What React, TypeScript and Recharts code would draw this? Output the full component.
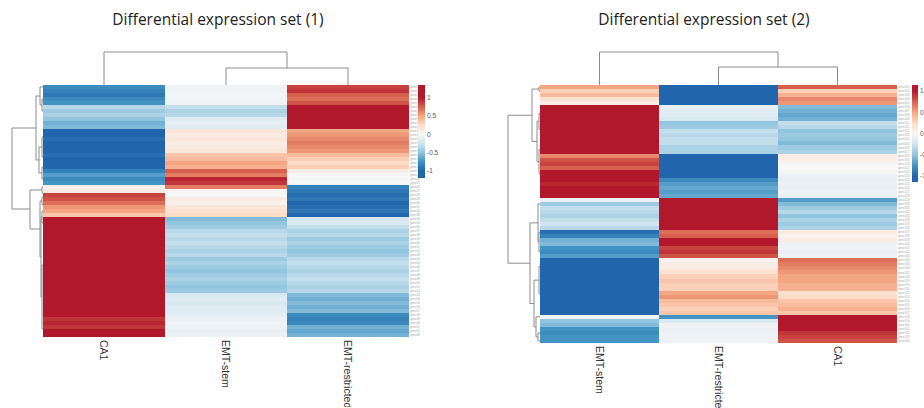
import {
  BarChart,
  Bar,
  Cell,
  XAxis,
  YAxis,
  ScatterChart,
  Scatter,
} from 'recharts'

// ---- set (1): row-scaled expression, rows top -> bottom ----
const set1Columns = ['CA1', 'EMT-stem', 'EMT-restricted']
const set1CA1 = [
  -0.8, -0.85, -0.9, -0.8, -0.75, -0.35, -0.45, -0.4, -0.5, -0.6,
  -0.55, -1, -1, -0.95, -1, -1, -1, -0.95, -1, -1,
  -1, -0.85, -0.7, -0.8, -0.75, 0.05, 0.1, 0.85, 0.8, 0.7,
  0.55, 0.5, 0.35, 1.2, 1.2, 1.2, 1.2, 1.2, 1.2, 1.2,
  1.2, 1.2, 1.2, 1.2, 1.2, 1.2, 1.2, 1.2, 1.2, 1.2,
  1.2, 1.2, 1.2, 1.2, 1.2, 1.2, 1.2, 1.2, 0.9, 0.95,
  0.9, 1.2, 1.2,
]
const set1Stem = [
  -0.05, -0.05, -0.03, -0.05, -0.05, -0.3, -0.4, -0.35, -0.15, -0.12,
  -0.15, 0.15, 0.12, 0.15, 0.1, 0.12, 0.15, 0.35, 0.4, 0.5,
  0.45, 0.75, 0.65, 0.95, 0.9, 0.65, 0.02, 0.0, 0.1, 0.05,
  0.15, 0.2, 0.25, -0.55, -0.5, -0.45, -0.35, -0.3, -0.35, -0.3,
  -0.35, -0.4, -0.35, -0.45, -0.4, -0.45, -0.5, -0.45, -0.4, -0.45,
  -0.5, -0.45, -0.2, -0.15, -0.2, -0.15, -0.15, -0.12, -0.08, -0.05,
  -0.08, -0.1, -0.08,
]
const set1Restricted = [
  0.85, 0.9, 0.75, 0.7, 0.8, 1.1, 1.1, 1.1, 1.1, 1.1,
  1.1, 0.5, 0.55, 0.6, 0.65, 0.6, 0.55, 0.4, 0.3, 0.25,
  0.3, 0.1, 0.0, -0.02, 0.0, -0.85, -0.9, -0.95, -0.9, -1,
  -0.95, -0.9, -1, -0.2, -0.2, -0.3, -0.4, -0.35, -0.45, -0.4,
  -0.45, -0.5, -0.45, -0.35, -0.3, -0.35, -0.4, -0.35, -0.3, -0.35,
  -0.4, -0.35, -0.55, -0.6, -0.55, -0.6, -0.55, -0.8, -0.85, -0.8,
  -0.6, -0.65, -0.6,
]
// dendrogram merges: [pos1, pos2, height1, height2, mergeHeight]
const set1ColLinks = [
  [1.5, 2.5, 0, 0, 17],
  [0.5, 2.0, 0, 17, 33],
]
const set1RowLinks = [
  [10.75, 31, 7, 13, 31],
  [2.75, 18.75, 3, 4, 7],
  [0.5, 5, 0, 1, 3],
  [3.5, 6.5, 0, 0, 1],
  [15.5, 22, 1, 1, 4],
  [13, 18, 0, 0, 1],
  [20.5, 23.5, 0, 0, 1],
  [26.25, 36, 1, 3, 13],
  [25.5, 27, 0, 0, 1],
  [29, 43, 1, 2, 3],
  [28, 30, 0, 0, 1],
  [33, 53, 1, 1, 2],
  [31.5, 34.5, 0, 0, 1],
  [45, 61, 0, 0, 1],
]

// ---- set (2) ----
const set2Columns = ['EMT-stem', 'EMT-restricted', 'CA1']
const set2Stem = [
  0.5, 0.3, 0.4, 0.2, 0.1, 1.2, 1.2, 1.2, 1.2, 1.2,
  1.2, 1.2, 1.2, 1.2, 1.2, 1.2, 1.2, 0.6, 0.8, 0.85,
  0.75, 1.0, 1.1, 1.0, 0.95, 1.1, 1.0, 1.05, -0.1, -0.45,
  -0.3, -0.35, -0.4, -0.3, -0.25, -0.35, -0.95, -0.85, -0.6, -0.55,
  -0.75, -0.8, -0.7, -1, -1, -1, -1, -1, -1, -1,
  -1, -1, -1, -1, -1, -1, -1, -0.05, -0.5, -0.55,
  -0.75, -0.8, -0.75, -0.75,
]
const set2Restricted = [
  -1, -1, -1, -1, -1, -0.1, -0.15, -0.15, -0.2, -0.5,
  -0.45, -0.3, -0.35, -0.3, -0.3, -0.4, -0.4, -1, -1, -1,
  -1, -1, -1, -0.8, -0.7, -0.65, -0.7, -0.65, 1.2, 1.2,
  1.2, 1.2, 1.2, 1.2, 1.2, 1.2, 0.7, 0.75, 1.0, 1.05,
  0.85, 0.9, 0.8, 0.05, 0.1, 0.12, 0.2, 0.3, 0.35, 0.3,
  0.3, 0.5, 0.55, 0.4, 0.35, 0.3, 0.35, -0.75, -0.2, -0.05,
  -0.08, -0.05, -0.05, -0.05,
]
const set2CA1 = [
  0.75, 0.3, 0.45, 0.6, 0.55, -0.55, -0.6, -0.65, -0.6, -0.3,
  -0.35, -0.5, -0.45, -0.5, -0.55, -0.45, -0.4, 0.1, 0.08, 0.02,
  0.0, -0.02, -0.08, -0.1, -0.08, -0.1, -0.05, -0.1, -0.7, -0.55,
  -0.45, -0.35, -0.5, -0.4, -0.45, -0.4, 0.12, 0.05, 0.1, -0.05,
  -0.05, -0.1, -0.05, 0.7, 0.65, 0.6, 0.55, 0.5, 0.5, 0.45,
  0.45, 0.2, 0.25, 0.35, 0.4, 0.45, 0.35, 1.1, 1.1, 1.1,
  1.1, 0.9, 0.85, 0.8,
]
const set2ColLinks = [
  [1.5, 2.5, 0, 0, 18],
  [0.5, 2.0, 0, 18, 33],
]
const set2RowLinks = [
  [7.5, 44.2, 8, 10, 32],
  [1, 14, 1, 3, 8],
  [0.5, 1.5, 0, 0, 1],
  [9, 19, 1, 1, 3],
  [7, 11, 0, 0, 1],
  [16, 22, 0, 0, 1],
  [34.2, 54.2, 2, 6, 10],
  [29.5, 38.9, 0, 1, 2],
  [36.5, 41.3, 0, 0, 1],
  [48.4, 60, 1, 4, 6],
  [45, 51.8, 0, 0, 1],
  [57.5, 62.5, 0, 2, 4],
  [61.5, 63.5, 0, 0, 2],
]

const legendTicks = [-1, -0.5, 0, 0.5, 1]
const set1GeneLabels = Array.from({ length: set1CA1.length }, (_, i) => `gene${i + 1}`)
const set2GeneLabels = Array.from({ length: set2CA1.length }, (_, i) => `gene${i + 101}`)

// RdBu, blue (low) -> red (high), stops at -1, -0.75 ... 1
const RDBU = ['#2166ac', '#4393c3', '#92c5de', '#d1e5f0', '#f7f7f7', '#fddbc7', '#f4a582', '#d6604d', '#b2182b']
const SANS = '"Liberation Sans", Arial, sans-serif'
const LINE = '#8c8c8c'

function hexToRgb(h: string) {
  const n = parseInt(h.slice(1), 16)
  return [(n >> 16) & 255, (n >> 8) & 255, n & 255]
}

function valueColor(v: number): string {
  const t = Math.max(-1, Math.min(1, v))
  const pos = ((t + 1) / 2) * (RDBU.length - 1)
  const i = Math.min(Math.floor(pos), RDBU.length - 2)
  const f = pos - i
  const a = hexToRgb(RDBU[i])
  const b = hexToRgb(RDBU[i + 1])
  const c = a.map((x, k) => Math.round(x + (b[k] - x) * f))
  return `rgb(${c[0]},${c[1]},${c[2]})`
}

function ColumnTick(props: any) {
  const { x, y, payload } = props
  return (
    <text
      x={0}
      y={0}
      transform={`translate(${x - 3.8},${y}) rotate(90)`}
      fontSize={10.5}
      fontFamily={SANS}
      fill="#333"
    >
      {payload.value}
    </text>
  )
}

function Heatmap({ columns, matrix, rowLabels, plotWidth, plotHeight, labelHeight }: any) {
  const nRows = matrix[0].length
  const rowKeys: string[] = matrix[0].map((_: number, i: number) => 'r' + i)
  const data = columns.map((c: string) => {
    const d: Record<string, any> = { col: c }
    rowKeys.forEach((k) => { d[k] = 1 })
    return d
  })
  const rowTicks = rowKeys.map((_, i) => i + 0.5)
  return (
    <BarChart
      width={plotWidth + 14}
      height={plotHeight + labelHeight}
      data={data}
      margin={{ top: 0, right: 0, bottom: 0, left: 0 }}
      barCategoryGap={0}
      barGap={0}
    >
      <XAxis dataKey="col" height={labelHeight} tickLine={false} axisLine={false} tickSize={0} tickMargin={3} interval={0} tick={<ColumnTick />} />
      <YAxis
        orientation="right"
        type="number"
        domain={[0, nRows]}
        reversed
        ticks={rowTicks}
        interval={0}
        width={14}
        tickLine={false}
        axisLine={false}
        tickSize={0}
        tickMargin={1}
        tick={{ fontSize: 3, fill: '#a8a8a8', fontFamily: SANS }}
        tickFormatter={(v: number) => rowLabels[Math.floor(v)]}
      />
      {rowKeys.map((k, i) => (
        <Bar key={k} dataKey={k} stackId="cells" isAnimationActive={false}>
          {matrix.map((col: number[], j: number) => {
            const c = valueColor(col[i])
            return <Cell key={j} fill={c} shapeRendering="crispEdges" />
          })}
        </Bar>
      ))}
    </BarChart>
  )
}

function linkPoints(link: number[], alongX: boolean) {
  const [p1, p2, h1, h2, h] = link
  return alongX
    ? [{ x: p1, y: h1 }, { x: p1, y: h }, { x: p2, y: h }, { x: p2, y: h2 }]
    : [{ x: h1, y: p1 }, { x: h, y: p1 }, { x: h, y: p2 }, { x: h2, y: p2 }]
}

function ColDendrogram({ links, nCols, maxH, width, height }: any) {
  return (
    <ScatterChart width={width} height={height + 1} margin={{ top: 1, right: 0, bottom: 0, left: 0 }}>
      <XAxis type="number" dataKey="x" domain={[0, nCols]} hide />
      <YAxis type="number" dataKey="y" domain={[0, maxH]} hide />
      {links.map((l: number[], i: number) => (
        <Scatter key={i} data={linkPoints(l, true)} line={{ stroke: LINE, strokeWidth: 1 }} shape={() => <g />} isAnimationActive={false} />
      ))}
    </ScatterChart>
  )
}

function RowDendrogram({ links, nRows, maxH, height }: any) {
  return (
    <ScatterChart width={maxH + 1} height={height} margin={{ top: 0, right: 0, bottom: 0, left: 1 }}>
      <XAxis type="number" dataKey="x" domain={[0, maxH]} reversed hide />
      <YAxis type="number" dataKey="y" domain={[0, nRows]} reversed hide />
      {links.map((l: number[], i: number) => (
        <Scatter key={i} data={linkPoints(l, false)} line={{ stroke: LINE, strokeWidth: 1 }} shape={() => <g />} isAnimationActive={false} />
      ))}
    </ScatterChart>
  )
}

function ColorBar({ id, domain, barWidth, height }: any) {
  const [lo, hi] = domain
  return (
    <BarChart
      width={barWidth + 16}
      height={height}
      data={[{ key: 'scale', range: [lo, hi] }]}
      margin={{ top: 0, right: 0, bottom: 0, left: 0 }}
      barCategoryGap={0}
    >
      <defs>
        <linearGradient id={id} x1="0" y1="0" x2="0" y2="1">
          {RDBU.map((_, k) => {
            const v = 1 - k * 0.25
            return <stop key={k} offset={(hi - v) / (hi - lo)} stopColor={RDBU[RDBU.length - 1 - k]} />
          })}
        </linearGradient>
      </defs>
      <XAxis dataKey="key" hide />
      <YAxis
        orientation="right"
        type="number"
        domain={domain}
        ticks={legendTicks}
        interval={0}
        width={16}
        tickLine={false}
        axisLine={false}
        tickSize={0}
        tickMargin={2}
        tick={{ fontSize: 6.5, fill: '#555', fontFamily: SANS }}
      />
      <Bar dataKey="range" fill={`url(#${id})`} isAnimationActive={false} />
    </BarChart>
  )
}

const titleStyle: React.CSSProperties = {
  position: 'absolute',
  top: 10,
  width: 300,
  textAlign: 'center',
  fontFamily: '"Open Sans", sans-serif',
  fontSize: 15.5,
  lineHeight: '18px',
  color: '#222',
  whiteSpace: 'nowrap',
}

export default function App() {
  return (
    <div style={{ position: 'absolute', left: 0, top: 0, width: 924, height: 408, overflow: 'hidden', background: '#fff' }}>
      {/* set (1) */}
      <div style={{ ...titleStyle, left: 218 - 150 }}>Differential expression set (1)</div>
      <div style={{ position: 'absolute', left: 43, top: 51 }}>
        <ColDendrogram links={set1ColLinks} nCols={3} maxH={33} width={366} height={33} />
      </div>
      <div style={{ position: 'absolute', left: 11, top: 85 }}>
        <RowDendrogram links={set1RowLinks} nRows={set1CA1.length} maxH={31} height={252} />
      </div>
      <div style={{ position: 'absolute', left: 43, top: 85 }}>
        <Heatmap
          columns={set1Columns}
          matrix={[set1CA1, set1Stem, set1Restricted]}
          rowLabels={set1GeneLabels}
          plotWidth={366}
          plotHeight={252}
          labelHeight={70}
        />
      </div>
      <div style={{ position: 'absolute', left: 418, top: 85 }}>
        <ColorBar id="legend1" domain={[-1.2, 1.35]} barWidth={7} height={93} />
      </div>

      {/* set (2) */}
      <div style={{ ...titleStyle, left: 704 - 150 }}>Differential expression set (2)</div>
      <div style={{ position: 'absolute', left: 540, top: 51 }}>
        <ColDendrogram links={set2ColLinks} nCols={3} maxH={33} width={357} height={33} />
      </div>
      <div style={{ position: 'absolute', left: 507, top: 85 }}>
        <RowDendrogram links={set2RowLinks} nRows={set2CA1.length} maxH={32} height={258} />
      </div>
      <div style={{ position: 'absolute', left: 540, top: 85 }}>
        <Heatmap
          columns={set2Columns}
          matrix={[set2Stem, set2Restricted, set2CA1]}
          rowLabels={set2GeneLabels}
          plotWidth={357}
          plotHeight={258}
          labelHeight={66}
        />
      </div>
      <div style={{ position: 'absolute', left: 912, top: 85 }}>
        <ColorBar id="legend2" domain={[-1.14, 1.14]} barWidth={6} height={97} />
      </div>
    </div>
  )
}
